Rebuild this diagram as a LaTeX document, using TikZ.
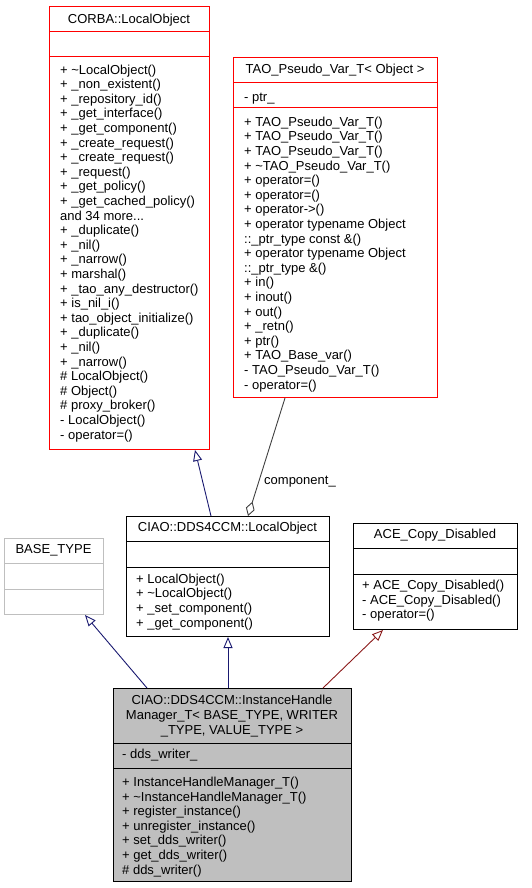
\documentclass[tikz,border=0pt]{standalone}
\usepackage{fontspec}
\setmainfont{Liberation Sans}
\usetikzlibrary{arrows.meta,calc}
\definecolor{dxred}{HTML}{FF0000}
\definecolor{dxgray}{HTML}{BFBFBF}
\definecolor{dxnavy}{HTML}{191970}
\definecolor{dxbrown}{HTML}{8B1A1A}
\definecolor{dxdark}{HTML}{404040}
\begin{document}
\begin{tikzpicture}[x=1pt,y=-1pt,
  box/.style={draw, line width=1pt, rectangle, inner sep=0pt, anchor=north west},
  txt/.style={inner sep=0pt, font=\fontsize{13}{14.6}\selectfont, anchor=base west, align=left},
  ttl/.style={inner sep=0pt, font=\fontsize{13}{14.6}\selectfont, anchor=base, align=center},
  inh/.style={dxnavy, line width=0.9pt, -{Triangle[open, length=11pt, width=9pt]}},
  inhpriv/.style={dxbrown, line width=0.9pt, -{Triangle[open, length=11pt, width=9pt]}},
  agg/.style={dxdark, line width=0.9pt, -{Diamond[open, length=15pt, width=9pt]}}]
\useasboundingbox (0,0) rectangle (532,888);

% CORBA::LocalObject
\node[box, draw=dxred, minimum width=160pt, minimum height=443pt] (corba) at (49,6) {};
\draw[dxred, line width=1pt] ([yshift=-26pt]corba.north west) -- ([yshift=-26pt]corba.north east);
\draw[dxred, line width=1pt] ([yshift=-51pt]corba.north west) -- ([yshift=-51pt]corba.north east);
\node[ttl] (corbat) at (129,23.5) {CORBA::LocalObject};
\node[txt] (corbam) at (60,439) {+ \textasciitilde LocalObject()\\
+ \_non\_existent()\\
+ \_repository\_id()\\
+ \_get\_interface()\\
+ \_get\_component()\\
+ \_create\_request()\\
+ \_create\_request()\\
+ \_request()\\
+ \_get\_policy()\\
+ \_get\_cached\_policy()\\
and 34 more...\\
+ \_duplicate()\\
+ \_nil()\\
+ \_narrow()\\
+ marshal()\\
+ \_tao\_any\_destructor()\\
+ is\_nil\_i()\\
+ tao\_object\_initialize()\\
+ \_duplicate()\\
+ \_nil()\\
+ \_narrow()\\
\# LocalObject()\\
\# Object()\\
\# proxy\_broker()\\
- LocalObject()\\
- operator=()};

% TAO_Pseudo_Var_T
\node[box, draw=dxred, minimum width=204pt, minimum height=340pt] (tao) at (233,57) {};
\draw[dxred, line width=1pt] ([yshift=-26pt]tao.north west) -- ([yshift=-26pt]tao.north east);
\draw[dxred, line width=1pt] ([yshift=-51pt]tao.north west) -- ([yshift=-51pt]tao.north east);
\node[ttl] (taot) at (335,73.5) {TAO\_Pseudo\_Var\_T< Object >};
\node[txt] (taoa) at (244,101.5) {- ptr\_};
\node[txt] (taom) at (244,389) {+ TAO\_Pseudo\_Var\_T()\\
+ TAO\_Pseudo\_Var\_T()\\
+ TAO\_Pseudo\_Var\_T()\\
+ \textasciitilde TAO\_Pseudo\_Var\_T()\\
+ operator=()\\
+ operator=()\\
+ operator->()\\
+ operator typename Object\\
::\_ptr\_type const \&()\\
+ operator typename Object\\
::\_ptr\_type \&()\\
+ in()\\
+ inout()\\
+ out()\\
+ \_retn()\\
+ ptr()\\
+ TAO\_Base\_var()\\
- TAO\_Pseudo\_Var\_T()\\
- operator=()};

% BASE_TYPE
\node[box, draw=dxgray, minimum width=99pt, minimum height=76pt] (base) at (4,538) {};
\draw[dxgray, line width=1pt] ([yshift=-25pt]base.north west) -- ([yshift=-25pt]base.north east);
\draw[dxgray, line width=1pt] ([yshift=-51pt]base.north west) -- ([yshift=-51pt]base.north east);
\node[ttl] (baset) at (53.5,553.5) {BASE\_TYPE};

% CIAO::DDS4CCM::LocalObject
\node[box, minimum width=203pt, minimum height=120pt] (ciaolo) at (126,516) {};
\draw[line width=1pt] ([yshift=-25pt]ciaolo.north west) -- ([yshift=-25pt]ciaolo.north east);
\draw[line width=1pt] ([yshift=-51pt]ciaolo.north west) -- ([yshift=-51pt]ciaolo.north east);
\node[ttl] (ciaolot) at (227.5,531.5) {CIAO::DDS4CCM::LocalObject};
\node[txt] (ciaolom) at (136,627) {+ LocalObject()\\
+ \textasciitilde LocalObject()\\
+ \_set\_component()\\
+ \_get\_component()};

% ACE_Copy_Disabled
\node[box, minimum width=164pt, minimum height=106pt] (ace) at (353,523) {};
\draw[line width=1pt] ([yshift=-25pt]ace.north west) -- ([yshift=-25pt]ace.north east);
\draw[line width=1pt] ([yshift=-51pt]ace.north west) -- ([yshift=-51pt]ace.north east);
\node[ttl] (acet) at (435,538.5) {ACE\_Copy\_Disabled};
\node[txt] (acem) at (362,618.7) {+ ACE\_Copy\_Disabled()\\
- ACE\_Copy\_Disabled()\\
- operator=()};

% CIAO::DDS4CCM::InstanceHandleManager_T
\node[box, fill=dxgray, minimum width=238pt, minimum height=193pt] (ihm) at (113,688) {};
\draw[line width=1pt] ([yshift=-55pt]ihm.north west) -- ([yshift=-55pt]ihm.north east);
\draw[line width=1pt] ([yshift=-80pt]ihm.north west) -- ([yshift=-80pt]ihm.north east);
\node[ttl] (ihmt) at (232,734) {CIAO::DDS4CCM::InstanceHandle\\Manager\_T< BASE\_TYPE, WRITER\\\_TYPE, VALUE\_TYPE >};
\node[txt] (ihma) at (122,758.5) {- dds\_writer\_};
\node[txt] (ihmm) at (122,874) {+ InstanceHandleManager\_T()\\
+ \textasciitilde InstanceHandleManager\_T()\\
+ register\_instance()\\
+ unregister\_instance()\\
+ set\_dds\_writer()\\
+ get\_dds\_writer()\\
\# dds\_writer()};

% connectors
\draw[inh] ([xshift=85pt]ciaolo.north west) -- ([xshift=146pt]corba.south west);
\draw[agg] ([xshift=52pt]tao.south west) -- ([xshift=122pt]ciaolo.north west);
\node[inner sep=0pt, anchor=west, font=\fontsize{13}{14.6}\selectfont] (complbl) at (264,482) {component\_};
\draw[inh] ([xshift=34pt]ihm.north west) -- ([xshift=81pt]base.south west);
\draw[inh] ([xshift=115pt]ihm.north west) -- ([xshift=102pt]ciaolo.south west);
\draw[inhpriv] ([xshift=210pt]ihm.north west) -- ([xshift=30pt]ace.south west);
\end{tikzpicture}
\end{document}
